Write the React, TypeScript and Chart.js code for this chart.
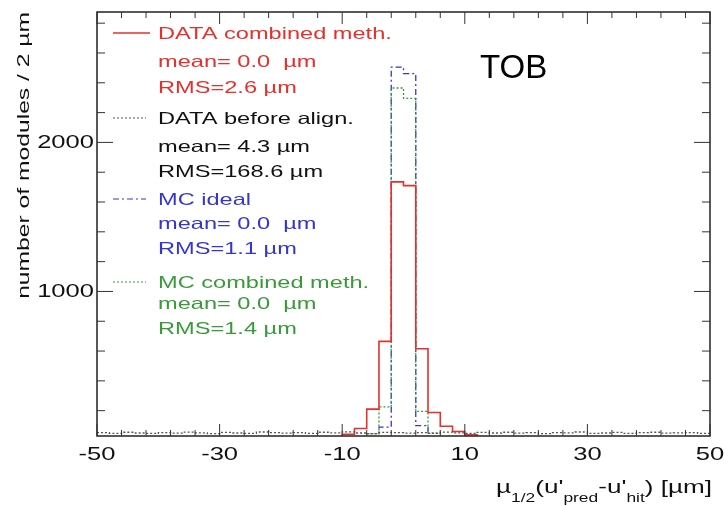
import React, { useEffect, useRef } from "react";
import { Chart, registerables } from "chart.js";

Chart.register(...registerables);

// ---- data ----
const X_MIN = -50;
const X_MAX = 50;
const BIN_WIDTH = 2;
const Y_MIN = 30;
const Y_MAX = 2875;
const X_TICK_LABELS = [-50, -30, -10, 10, 30, 50];
const Y_TICK_LABELS = [1000, 2000];
const X_MINOR_STEP = 4;
const Y_MINOR_STEP = 200;

// 50 bins of 2 µm from -50 to 50
const DATA_COMBINED = [
  0, 0, 0, 0, 0, 0, 0, 0, 0, 0,
  0, 0, 0, 0, 0, 2, 4, 6, 10, 25,
  42, 80, 210, 665, 1735, 1710, 615, 188, 95, 60,
  38, 20, 8, 4, 2, 0, 0, 0, 0, 0,
  0, 0, 0, 0, 0, 0, 0, 0, 0, 0,
];
const DATA_BEFORE = [
  52, 48, 55, 50, 47, 53, 49, 56, 51, 46,
  54, 50, 48, 57, 52, 49, 53, 47, 55, 51,
  58, 50, 46, 54, 52, 49, 53, 48, 56, 51,
  47, 54, 50, 55, 49, 52, 46, 53, 51, 57,
  48, 50, 54, 47, 52, 55, 49, 51, 53, 48,
];
const MC_IDEAL = [
  0, 0, 0, 0, 0, 0, 0, 0, 0, 0,
  0, 0, 0, 0, 0, 0, 0, 0, 0, 0,
  0, 0, 20, 90, 2505, 2462, 100, 20, 0, 0,
  0, 0, 0, 0, 0, 0, 0, 0, 0, 0,
  0, 0, 0, 0, 0, 0, 0, 0, 0, 0,
];
const MC_COMBINED = [
  0, 0, 0, 0, 0, 0, 0, 0, 0, 0,
  0, 0, 0, 0, 0, 0, 0, 0, 0, 0,
  0, 15, 45, 225, 2365, 2296, 195, 50, 15, 0,
  0, 0, 0, 0, 0, 0, 0, 0, 0, 0,
  0, 0, 0, 0, 0, 0, 0, 0, 0, 0,
];

const LEGEND_TITLES = ["DATA combined meth.", "DATA before align.", "MC ideal", "MC combined meth."];
const LEGEND_MEANS = ["mean= 0.0  µm", "mean= 4.3 µm", "mean= 0.0  µm", "mean= 0.0  µm"];
const LEGEND_RMS = ["RMS=2.6 µm", "RMS=168.6 µm", "RMS=1.1 µm", "RMS=1.4 µm"];

const Y_TITLE = "number of modules / 2 µm";
const X_TITLE_PARTS: [string, boolean][] = [
  ["µ", false], ["1/2", true], ["(u'", false], ["pred", true], ["-u'", false], ["hit", true], [") [µm]", false],
];
const PANEL_LABEL = "TOB";

// ---- styles ----
const RED = "#e6302b";
const BLACK = "#555555";
const BLUE = "#3535d0";
const GREEN = "#3a9a3a";
const COLORS = [RED, "#111111", BLUE, GREEN];
const LINE_COLORS = [RED, BLACK, BLUE, GREEN];
const DASHES: number[][] = [[], [2, 2], [6, 3, 2, 3], [2, 2]];
const FONT = "'Liberation Sans', Arial, sans-serif";

function histPoints(values: number[]) {
  const pts: { x: number; y: number }[] = [];
  for (let i = 0; i < values.length; i++) {
    pts.push({ x: X_MIN + i * BIN_WIDTH, y: values[i] });
  }
  pts.push({ x: X_MIN + values.length * BIN_WIDTH, y: values[values.length - 1] });
  return pts;
}

function sText(
  ctx: CanvasRenderingContext2D, text: string, x: number, y: number,
  size: number, color: string, align: "left" | "right" | "center", sx: number,
  baseline: CanvasTextBaseline = "alphabetic"
) {
  ctx.save();
  ctx.font = `${size}px ${FONT}`;
  ctx.fillStyle = color;
  ctx.textBaseline = baseline;
  ctx.textAlign = "left";
  const w = ctx.measureText(text).width * sx;
  let x0 = x;
  if (align === "right") x0 = x - w;
  if (align === "center") x0 = x - w / 2;
  ctx.translate(x0, y);
  ctx.scale(sx, 1);
  ctx.fillText(text, 0, 0);
  ctx.restore();
  return w;
}

const decorPlugin = {
  id: "rootDecor",
  afterDatasetsDraw(chart: any) {
    const ctx: CanvasRenderingContext2D = chart.ctx;
    const { left, right, top, bottom } = chart.chartArea;
    const xs = chart.scales.x;
    const ys = chart.scales.y;

    // frame
    ctx.save();
    ctx.strokeStyle = "#222";
    ctx.lineWidth = 1.5;
    ctx.strokeRect(left, top, right - left, bottom - top);

    // ticks
    ctx.lineWidth = 1;
    ctx.strokeStyle = "#333";
    ctx.beginPath();
    for (let v = X_MIN; v <= X_MAX + 1e-9; v += X_MINOR_STEP) {
      const px = xs.getPixelForValue(v);
      const major = X_TICK_LABELS.includes(v);
      const len = major ? 12 : 6;
      ctx.moveTo(px, bottom);
      ctx.lineTo(px, bottom - len);
      ctx.moveTo(px, top);
      ctx.lineTo(px, top + len);
    }
    for (let v = Y_MINOR_STEP; v <= Y_MAX; v += Y_MINOR_STEP) {
      if (v < Y_MIN) continue;
      const py = ys.getPixelForValue(v);
      const major = Y_TICK_LABELS.includes(v);
      const len = major ? 16 : 8;
      ctx.moveTo(left, py);
      ctx.lineTo(left + len, py);
      ctx.moveTo(right, py);
      ctx.lineTo(right - len, py);
    }
    ctx.stroke();
    ctx.restore();

    // tick labels
    for (const v of X_TICK_LABELS) {
      sText(ctx, String(v), xs.getPixelForValue(v), 460, 18, "#111", "center", 1.42);
    }
    for (const v of Y_TICK_LABELS) {
      sText(ctx, String(v), left - 3, ys.getPixelForValue(v) + 1, 18, "#111", "right", 1.42, "middle");
    }

    // y title (rotated)
    ctx.save();
    ctx.translate(29, 12);
    ctx.rotate(-Math.PI / 2);
    ctx.font = `17px ${FONT}`;
    ctx.fillStyle = "#111";
    const wy = ctx.measureText(Y_TITLE).width * 1.45;
    ctx.translate(-wy, 0);
    ctx.scale(1.45, 1);
    ctx.textAlign = "left";
    ctx.fillText(Y_TITLE, 0, 0);
    ctx.restore();

    // x title with subscripts, right aligned
    const sx = 1.45;
    ctx.save();
    let total = 0;
    for (const [t, sub] of X_TITLE_PARTS) {
      ctx.font = `${sub ? 12 : 18}px ${FONT}`;
      total += ctx.measureText(t).width * sx;
    }
    ctx.restore();
    let cx = 712 - total;
    for (const [t, sub] of X_TITLE_PARTS) {
      cx += sText(ctx, t, cx, sub ? 502 : 493, sub ? 12 : 18, "#111", "left", sx);
    }

    // legend
    const titleBase = [39, 124, 205, 288];
    const meanBase = [67, 152, 229, 309];
    const rmsBase = [93, 177, 254, 334];
    for (let i = 0; i < 4; i++) {
      ctx.save();
      ctx.strokeStyle = LINE_COLORS[i];
      ctx.lineWidth = i === 0 ? 1.5 : 1.2;
      ctx.setLineDash(DASHES[i]);
      ctx.beginPath();
      const ly = titleBase[i] - 6;
      ctx.moveTo(113, ly);
      ctx.lineTo(i === 0 ? 150 : 146, ly);
      ctx.stroke();
      ctx.restore();
      sText(ctx, LEGEND_TITLES[i], 158, titleBase[i], 16.5, COLORS[i], "left", 1.43);
      sText(ctx, LEGEND_MEANS[i], 158, meanBase[i], 16.5, COLORS[i], "left", 1.43);
      sText(ctx, LEGEND_RMS[i], 158, rmsBase[i], 16.5, COLORS[i], "left", 1.43);
    }

    // panel label
    sText(ctx, PANEL_LABEL, 480, 78, 33, "#000", "left", 1.0);
  },
};

export default function App() {
  const ref = useRef<HTMLCanvasElement | null>(null);
  useEffect(() => {
    document.body.style.margin = "0";
    const canvas = ref.current!;
    const mk = (label: string, values: number[], i: number) => ({
      label,
      data: histPoints(values),
      stepped: "before" as const,
      borderColor: LINE_COLORS[i],
      borderWidth: i === 0 ? 1.6 : 1.3,
      borderDash: DASHES[i],
      pointRadius: 0,
      fill: false,
      tension: 0,
    });
    const chart = new Chart(canvas, {
      type: "line",
      data: {
        datasets: [
          mk(LEGEND_TITLES[1], DATA_BEFORE, 1),
          mk(LEGEND_TITLES[0], DATA_COMBINED, 0),
          mk(LEGEND_TITLES[3], MC_COMBINED, 3),
          mk(LEGEND_TITLES[2], MC_IDEAL, 2),
        ],
      },
      options: {
        responsive: false,
        animation: false,
        parsing: true,
        layout: { padding: { left: 97, right: 14, top: 12, bottom: 70 } },
        plugins: { legend: { display: false }, tooltip: { enabled: false } },
        scales: {
          x: { type: "linear", min: X_MIN, max: X_MAX, display: false },
          y: { type: "linear", min: Y_MIN, max: Y_MAX, display: false },
        },
      },
      plugins: [decorPlugin],
    });
    return () => chart.destroy();
  }, []);
  return (
    <div style={{ position: "absolute", left: 0, top: 0, width: 724, height: 506, background: "#fff" }}>
      <canvas ref={ref} width={724} height={506} style={{ width: 724, height: 506, display: "block" }} />
    </div>
  );
}
